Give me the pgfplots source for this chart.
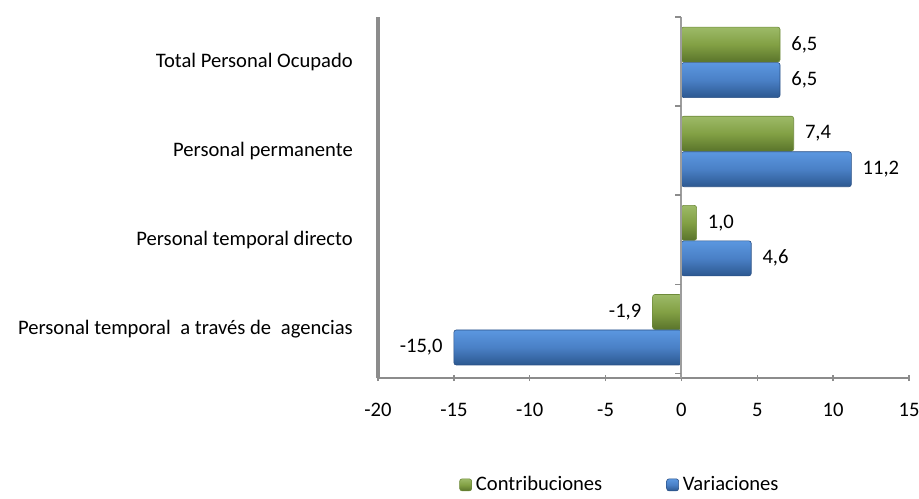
\documentclass[border=0pt]{standalone}
\usepackage{fontspec}
\setmainfont{Carlito}
\usepackage{pgfplots}
\pgfplotsset{compat=1.18}
\definecolor{gTop}{HTML}{9DBA68}
\definecolor{gMid}{HTML}{82A044}
\definecolor{gBot}{HTML}{5A742B}
\definecolor{gEdge}{HTML}{6E8A3A}
\definecolor{bTop}{HTML}{5B97E0}
\definecolor{bMid}{HTML}{4A80C6}
\definecolor{bBot}{HTML}{2C5890}
\definecolor{bEdge}{HTML}{2A5085}
\definecolor{axgray}{HTML}{8C8C8C}
\begin{document}
\fontsize{10.3}{12.4}\selectfont
\begin{tikzpicture}
\path[use as bounding box] (0,0) rectangle (459.5pt,249pt);
\begin{axis}[
  at={(189pt,60pt)}, anchor=south west,
  scale only axis, width=265.5pt, height=180.5pt,
  xbar, bar width=17.5pt,
  xmin=-20, xmax=15, ymin=-0.55, ymax=3.5,
  axis x line*=bottom, axis y line*=left,
  x axis line style={-, draw=axgray, line width=0.9pt},
  y axis line style={-, draw=axgray, line width=2pt},
  xtick={-20,-15,-10,-5,0,5,10,15},
  xtick align=center,
  major tick length=3pt,
  x tick style={draw=axgray, line width=0.7pt},
  xticklabel style={yshift=-7.5pt},
  ytick={0,1,2,3},
  yticklabels={Personal temporal\hspace{2.5pt} a través de\hspace{2.5pt} agencias\ ,Personal temporal directo,Personal permanente,Total Personal Ocupado},
  y tick style={draw=none},
  yticklabel style={xshift=-6pt},
  /pgf/number format/assume math mode=true,
  point meta=x,
  nodes near coords={\pgfmathprintnumber[fixed,fixed zerofill,precision=1,use comma,assume math mode=true]{\pgfplotspointmeta}},
  nodes near coords align=horizontal,
  every node near coord/.append style={inner xsep=5.5pt, text=black},
  legend columns=2,
  legend style={draw=none, fill=none, at={(0.1525,-0.296)}, anchor=west, inner sep=0pt,
    /tikz/every even column/.append style={column sep=30pt}},
  legend image code/.code={\path[#1] (0pt,-3pt) rectangle (6pt,3pt);},
  gbar/.style={bar shift=8.5pt, top color=gTop, bottom color=gBot, middle color=gMid, draw=gEdge, line width=0.3pt, rounded corners=1.2pt},
  bbar/.style={bar shift=-9.25pt, top color=bTop, bottom color=bBot, middle color=bMid, draw=bEdge, line width=0.3pt, rounded corners=1.2pt},
]
\addplot[gbar] coordinates {(6.5,3)};
\addlegendentry{Contribuciones}
\addplot[bbar] coordinates {(6.5,3)};
\addlegendentry{Variaciones}
\addplot[gbar, forget plot] coordinates {(7.4,2)};
\addplot[gbar, forget plot] coordinates {(1.0,1)};
\addplot[gbar, forget plot] coordinates {(-1.9,0)};
\addplot[bbar, forget plot] coordinates {(11.2,2)};
\addplot[bbar, forget plot] coordinates {(4.6,1)};
\addplot[bbar, forget plot] coordinates {(-15.0,0)};
\draw[axgray!85, line width=1pt] (axis cs:0,-0.55) -- (axis cs:0,3.5);
\draw[axgray, line width=0.8pt] (axis cs:0,-0.5) -- ([xshift=-3pt]axis cs:0,-0.5);
\draw[axgray, line width=0.8pt] (axis cs:0,0.5) -- ([xshift=-3pt]axis cs:0,0.5);
\draw[axgray, line width=0.8pt] (axis cs:0,1.5) -- ([xshift=-3pt]axis cs:0,1.5);
\draw[axgray, line width=0.8pt] (axis cs:0,2.5) -- ([xshift=-3pt]axis cs:0,2.5);
\draw[axgray, line width=0.8pt] (axis cs:0,3.5) -- ([xshift=-3pt]axis cs:0,3.5);
\end{axis}
\end{tikzpicture}
\end{document}
